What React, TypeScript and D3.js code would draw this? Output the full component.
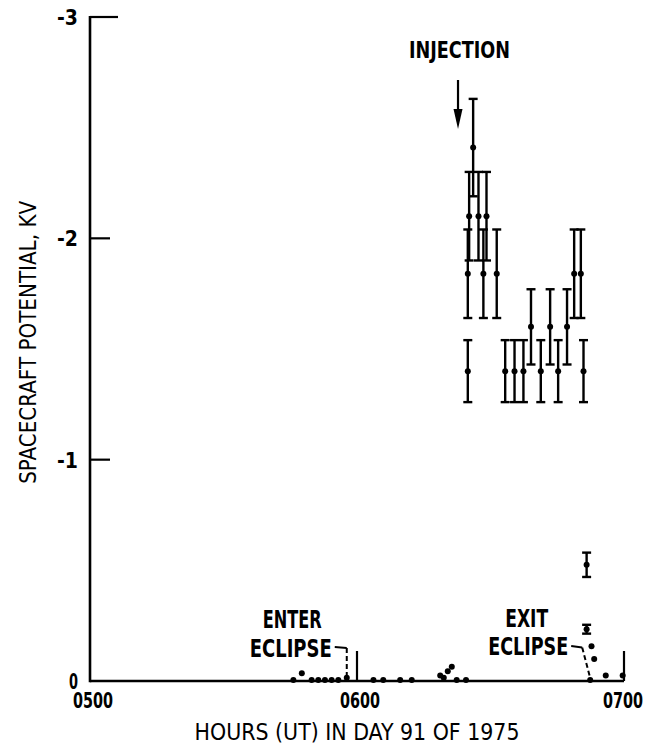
import * as d3 from "d3";

// times are minutes after 0500 UT, day 91 of 1975; potentials in kV
const xTicks = [0, 60, 120];
const xTickLabels = ["0500", "0600", "0700"];
const yTicks = [0, -1, -2, -3];
const yTickLabels = ["0", "-1", "-2", "-3"];

// measurements drawn with error bars
const barTimes = [
  84.9, 84.9, 85.2, 86.1, 87.3, 88.4, 89.1, 91.4, 93.3, 95.4, 97.4, 99.1,
  101.3, 103.4, 105.2, 107.2, 108.8, 110.3, 110.9, 111.6, 111.6,
];
const barValues = [
  -1.4, -1.84, -2.1, -2.41, -2.1, -1.84, -2.1, -1.84, -1.4, -1.4, -1.4, -1.6,
  -1.4, -1.6, -1.4, -1.6, -1.84, -1.84, -1.4, -0.525, -0.234,
];
const barErrors = [
  0.14, 0.2, 0.2, 0.22, 0.2, 0.2, 0.2, 0.2, 0.14, 0.14, 0.14, 0.17, 0.14,
  0.17, 0.14, 0.17, 0.2, 0.2, 0.14, 0.055, 0.02,
];

// plain dots near zero
const dotTimes = [
  45.7, 47.6, 49.8, 51.3, 52.8, 54.3, 55.8, 57.7, 63.7, 65.9, 69.7, 72.3,
  78.7, 79.5, 80.4, 81.3, 82.4, 84.5, 112.4, 112.7, 113.3, 115.9, 119.7,
];
const dotValues = [
  0, -0.03, 0, 0, 0, 0, 0, -0.01, 0, 0, 0, 0, -0.02, -0.01, -0.04, -0.06, 0,
  0, 0, -0.152, -0.095, -0.02, -0.02,
];

const injectionTime = 82.7;
const enterEclipseTime = 57.7;
const exitEclipseTime = 112.4;

const width = 647;
const height = 751;
const font = "'DejaVu Sans Condensed', 'DejaVu Sans', sans-serif";
const ink = "#000";

// condensed label: squeezes the glyphs into a given width like the old lettering
function Label({
  x,
  y,
  w,
  size,
  bold = true,
  anchor = "start",
  children,
}: {
  x: number;
  y: number;
  w: number;
  size: number;
  bold?: boolean;
  anchor?: "start" | "middle" | "end";
  children: string;
}) {
  const left = anchor === "start" ? x : anchor === "middle" ? x - w / 2 : x - w;
  return (
    <text
      x={left}
      y={y}
      fontSize={size}
      fontWeight={bold ? "bold" : "normal"}
      textLength={w}
      lengthAdjust="spacingAndGlyphs"
      fill={ink}
    >
      {children}
    </text>
  );
}

export default function App() {
  const x = d3.scaleLinear().domain([0, 120]).range([90, 624]);
  const y = d3.scaleLinear().domain([0, -3]).range([681, 17]);
  const cap = 4.5;

  const ex = x(exitEclipseTime);
  const en = x(enterEclipseTime);
  const ix = x(injectionTime);

  return (
    <svg
      width={width}
      height={height}
      style={{ position: "absolute", left: 0, top: 0, background: "#fff" }}
      fontFamily={font}
    >
      {/* axes */}
      <line x1={x(0)} y1={y(-3) - 1} x2={x(0)} y2={y(0) + 1.2} stroke={ink} strokeWidth={2.6} />
      <line x1={x(0)} y1={y(0)} x2={x(120)} y2={y(0)} stroke={ink} strokeWidth={2.6} />

      {yTicks.map((t, i) => (
        <g key={"y" + t}>
          {t !== 0 && (
            <line
              x1={x(0)}
              x2={x(0) + (t === -3 ? 28 : 20)}
              y1={y(t)}
              y2={y(t)}
              stroke={ink}
              strokeWidth={2.2}
            />
          )}
          <Label x={78} y={y(t) + 8} w={t === 0 ? 9 : 21} size={22} anchor="end">
            {yTickLabels[i]}
          </Label>
        </g>
      ))}

      {xTicks.map((t, i) => (
        <g key={"x" + t}>
          {t !== 0 && (
            <line x1={x(t)} x2={x(t)} y1={y(0)} y2={y(0) - 30} stroke={ink} strokeWidth={2.2} />
          )}
          <Label x={x(t) + (t === 120 ? -1 : 3)} y={708} w={40} size={21} anchor="middle">
            {xTickLabels[i]}
          </Label>
        </g>
      ))}

      {/* axis titles */}
      <Label x={x(60)} y={740} w={325} size={23} bold={false} anchor="middle">
        HOURS (UT) IN DAY 91 OF 1975
      </Label>
      <g transform={`translate(36,${y(-1.53)}) rotate(-90)`}>
        <Label x={0} y={0} w={283} size={23} bold={false} anchor="middle">
          SPACECRAFT POTENTIAL, KV
        </Label>
      </g>

      {/* error bars */}
      {barTimes.map((t, i) => {
        const cx = x(t);
        const top = y(barValues[i] - barErrors[i]);
        const bot = y(barValues[i] + barErrors[i]);
        return (
          <g key={"b" + i} stroke={ink} strokeWidth={2.4}>
            <line x1={cx} x2={cx} y1={top} y2={bot} />
            <line x1={cx - cap} x2={cx + cap} y1={top} y2={top} />
            <line x1={cx - cap} x2={cx + cap} y1={bot} y2={bot} />
            <circle cx={cx} cy={y(barValues[i])} r={3} fill={ink} stroke="none" />
          </g>
        );
      })}

      {dotTimes.map((t, i) => (
        <circle key={"d" + i} cx={x(t)} cy={y(dotValues[i]) - 1} r={3} fill={ink} />
      ))}

      {/* injection marker */}
      <Label x={409} y={58} w={101} size={23}>
        INJECTION
      </Label>
      <line x1={ix} x2={ix} y1={80} y2={112} stroke={ink} strokeWidth={2.2} />
      <polygon points={`${ix - 4.5},109 ${ix + 4.5},109 ${ix},129`} fill={ink} />

      {/* enter eclipse */}
      <Label x={en - 84} y={628} w={59} size={24}>
        ENTER
      </Label>
      <Label x={en - 15} y={657} w={82} size={24} anchor="end">
        ECLIPSE
      </Label>
      <polyline points={`${en - 12},647 ${en},648`} fill="none" stroke={ink} strokeWidth={1.8} />
      <line x1={en} x2={en} y1={648} y2={y(0) - 3} stroke={ink} strokeWidth={2} strokeDasharray="5,3" />

      {/* exit eclipse */}
      <Label x={ex - 85} y={627} w={43} size={24}>
        EXIT
      </Label>
      <Label x={ex - 22} y={655} w={80} size={24} anchor="end">
        ECLIPSE
      </Label>
      <polyline points={`${ex - 19},646 ${ex - 8},647.5`} fill="none" stroke={ink} strokeWidth={1.8} />
      <line x1={ex - 8} x2={ex} y1={647.5} y2={y(0) - 3} stroke={ink} strokeWidth={2} strokeDasharray="5,3" />
    </svg>
  );
}
